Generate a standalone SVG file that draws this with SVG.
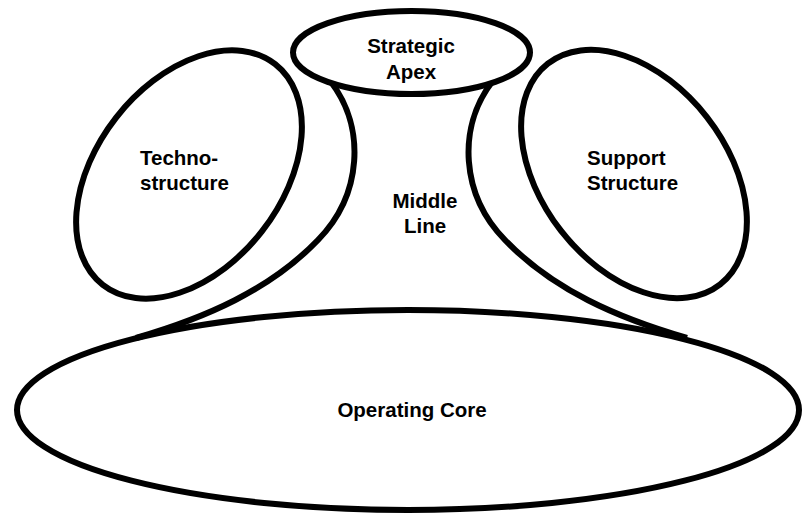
<svg xmlns="http://www.w3.org/2000/svg" width="803" height="518" viewBox="0 0 803 518">
<style>
.shape{fill:#fff;stroke:#000;stroke-width:6}
.conn{fill:none;stroke:#000;stroke-width:6}
.lbl{font-family:"Liberation Sans",Arial,sans-serif;font-weight:bold;font-size:20.5px;fill:#000}
</style>
<defs>
<clipPath id="apexClip"><rect x="290" y="10" width="245" height="75"/></clipPath>
</defs>
<g id="operating-core">
<ellipse class="shape" cx="408" cy="410" rx="391" ry="100"/>
<text class="lbl" x="412" y="417" text-anchor="middle">Operating Core</text>
</g>
<g id="technostructure">
<ellipse class="shape" cx="0" cy="0" rx="140" ry="92.5" transform="translate(189,174.5) rotate(-52)"/>
<text class="lbl" x="140" y="165">Techno-</text>
<text class="lbl" x="140" y="190">structure</text>
</g>
<g id="support-structure">
<ellipse class="shape" cx="0" cy="0" rx="140" ry="92.5" transform="translate(634,174) rotate(52)"/>
<text class="lbl" x="587" y="165">Support</text>
<text class="lbl" x="587" y="190">Structure</text>
</g>
<g id="connectors">
<path class="conn" d="M 331 82 C 366 128, 362 195, 318 240 C 270 290, 205 318, 136 338"/>
<path class="conn" d="M 492 82 C 457 128, 461 195, 505 240 C 553 290, 618 318, 687 338"/>
</g>
<g id="strategic-apex">
<ellipse class="shape" cx="411.5" cy="52.5" rx="118.5" ry="41.5"/>
<g clip-path="url(#apexClip)">
<text class="lbl" x="411" y="53" text-anchor="middle">Strategic</text>
<text class="lbl" x="411" y="79" text-anchor="middle">Apex</text>
</g>
</g>
<g id="middle-line">
<text class="lbl" x="425" y="208" text-anchor="middle">Middle</text>
<text class="lbl" x="425" y="233" text-anchor="middle">Line</text>
</g>
</svg>
